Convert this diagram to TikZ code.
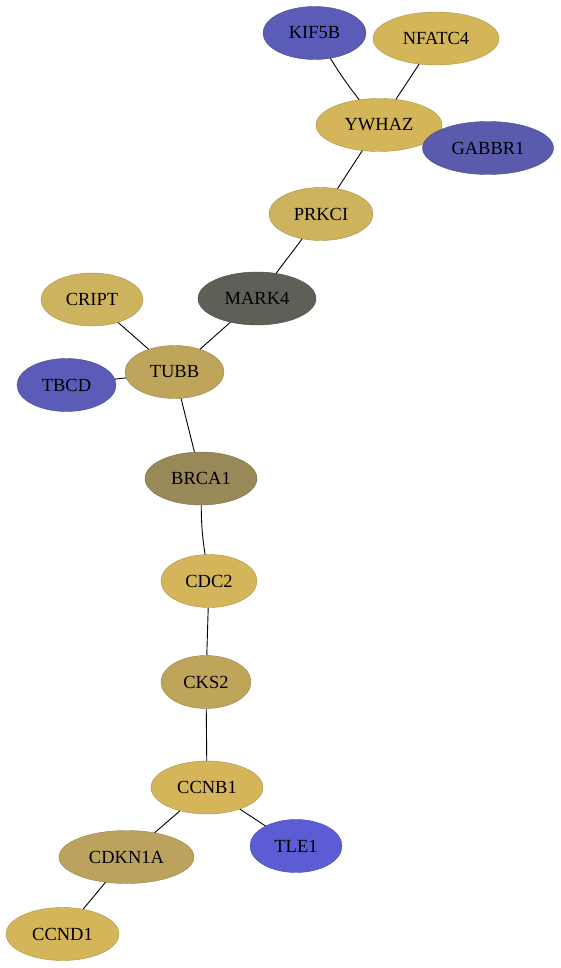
\documentclass[tikz,border=0pt]{standalone}
\usepackage{fontspec}
\setmainfont{Liberation Serif}
\usetikzlibrary{shapes.geometric}
\definecolor{goldA}{HTML}{D4B55A}
\definecolor{goldB}{HTML}{CDB35E}
\definecolor{goldC}{HTML}{BFA55A}
\definecolor{goldD}{HTML}{BBA35E}
\definecolor{olive}{HTML}{998858}
\definecolor{slate}{HTML}{5F5F58}
\definecolor{blueA}{HTML}{5B5BB8}
\definecolor{blueB}{HTML}{5B5BAD}
\definecolor{blueC}{HTML}{5C5CD4}
\begin{document}
\begin{tikzpicture}[x=1pt, y=-1pt,
      gene/.style={ellipse, draw=#1!80!black, fill=#1, minimum height=53pt, inner sep=0pt,
                   font=\fontsize{18.5}{21}\selectfont},
      link/.style={draw=black, line width=0.9pt}
  ]
  \useasboundingbox (0,0) rectangle (560,968);

  % Nodes
  \node[gene=blueA, minimum width=103pt] (kif5b) at (314.5,33) {KIF5B};
  \node[gene=goldA, minimum width=126pt] (nfatc4) at (436,38.5) {NFATC4};
  \node[gene=goldA, minimum width=126pt] (ywhaz) at (379,125) {YWHAZ};
  \node[gene=blueB, minimum width=131pt] (gabbr1) at (488,148) {GABBR1};
  \node[gene=goldB, minimum width=104pt] (prkci) at (321,214) {PRKCI};
  \node[gene=slate, minimum width=118pt] (mark4) at (257,298.5) {MARK4};
  \node[gene=goldB, minimum width=102pt] (cript) at (92,299.5) {CRIPT};
  \node[gene=goldC, minimum width=99pt] (tubb) at (174.5,372) {TUBB};
  \node[gene=blueA, minimum width=99pt] (tbcd) at (66.5,385) {TBCD};
  \node[gene=olive, minimum width=112pt] (brca1) at (201,478.5) {BRCA1};
  \node[gene=goldA, minimum width=96pt] (cdc2) at (209,581) {CDC2};
  \node[gene=goldC, minimum width=90pt] (cks2) at (206,682) {CKS2};
  \node[gene=goldA, minimum width=112pt] (ccnb1) at (207,787.5) {CCNB1};
  \node[gene=goldD, minimum width=135pt] (cdkn1a) at (126.5,857) {CDKN1A};
  \node[gene=blueC, minimum width=92pt] (tle1) at (296,846) {TLE1};
  \node[gene=goldA, minimum width=113pt] (ccnd1) at (62.5,934) {CCND1};

  % Edges
  \draw[link] (kif5b) to[bend right=3] (ywhaz);
  \draw[link] (nfatc4) -- (ywhaz);
  \draw[link] (ywhaz) -- (prkci);
  \draw[link] (prkci) -- (mark4);
  \draw[link] (mark4) -- (tubb);
  \draw[link] (cript) -- (tubb);
  \draw[link] (tbcd) -- (tubb);
  \draw[link] (tubb) -- (brca1);
  \draw[link] (brca1) to[bend right=4] (cdc2);
  \draw[link] (cdc2) -- (cks2);
  \draw[link] (cks2) -- (ccnb1);
  \draw[link] (ccnb1) -- (cdkn1a);
  \draw[link] (ccnb1) -- (tle1);
  \draw[link] (cdkn1a) -- (ccnd1);

\end{tikzpicture}
\end{document}
